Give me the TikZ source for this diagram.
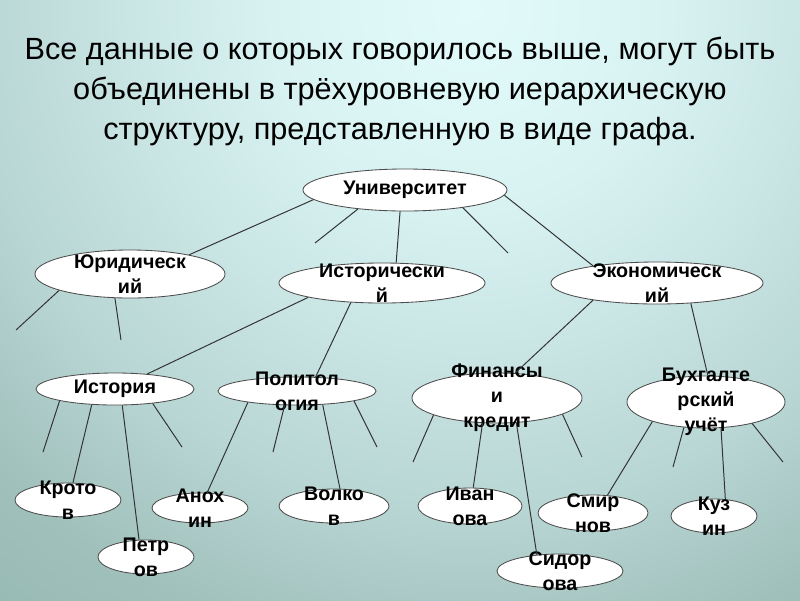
\documentclass[tikz,border=0pt]{standalone}
\usepackage{fontspec}
\setmainfont{Liberation Sans}
\newfontfamily\headfont{Liberation Sans}
\usetikzlibrary{shapes.geometric}
\definecolor{bgA}{HTML}{E2FAFA}
\definecolor{bgB}{HTML}{D8F2F2}
\definecolor{bgC}{HTML}{B8D6D4}
\definecolor{bgD}{HTML}{A0C0BB}
\definecolor{bgE}{HTML}{8BB0AA}
\definecolor{bgF}{HTML}{719A93}
\definecolor{bgG}{HTML}{5F8B85}
\definecolor{bgH}{HTML}{5C8780}
\pgfdeclareradialshading{slidebg}{\pgfpoint{0bp}{0bp}}{color(0bp)=(bgA); color(6.25bp)=(bgB); color(15.6bp)=(bgC); color(20.6bp)=(bgD); color(29.4bp)=(bgE); color(37.5bp)=(bgF); color(46.9bp)=(bgG); color(50bp)=(bgH)}
\tikzset{
  oval/.style 2 args={ellipse, draw=black!70, fill=white, line width=0.6pt, inner sep=0pt, minimum width=#1cm, minimum height=#2cm},
  otext/.style={font=\fontsize{14}{17.7}\selectfont\bfseries, align=center, inner sep=0pt},
  headline/.style={font=\headfont\fontsize{21.8}{28.4}\selectfont, align=center, inner sep=0pt},
  link/.style={draw=black!80, line width=0.7pt},
}

\begin{document}
\begin{tikzpicture}[x=0.025cm, y=-0.025cm]
  \begin{scope}
    \clip (0,0) rectangle (800,600);
    \shade[shading=slidebg] (-330,-790) rectangle (1270,810);
  \end{scope}
  \useasboundingbox (0,0) rectangle (800,600);

  \node[headline, anchor=north] (title) at (400,37) {Все данные о которых говорилось выше, могут быть\\объединены в трёхуровневую иерархическую\\структуру, представленную в виде графа.};

  \node[oval={5.1}{1.05}, label={[otext]center:Университет}] (univ) at (405,190) {};
  \node[oval={4.75}{1.2}, label={[otext]center:{Юридическ\\ий}}] (jur) at (130,274) {};
  \node[oval={5.15}{1.0}, label={[otext]center:{Исторически\\й}}] (hist) at (382,283) {};
  \node[oval={5.3}{1.05}, label={[otext]center:{Экономическ\\ий}}] (econ) at (657,283) {};
  \node[oval={3.95}{0.8}, label={[otext]center:История}] (istoria) at (115,389) {};
  \node[oval={3.95}{0.7}, label={[otext]center:{Политол\\огия}}] (polit) at (297,391) {};
  \node[oval={4.25}{1.25}, label={[otext]center:{Финансы\\и\\кредит}}] (fin) at (497,398) {};
  \node[oval={3.95}{1.3}, label={[otext]center:{Бухгалте\\рский\\учёт}}] (buh) at (706,402) {};
  \node[oval={2.65}{0.85}, label={[otext]center:{Крото\\в}}] (krot) at (68,500) {};
  \node[oval={2.4}{0.85}, label={[otext]center:{Петр\\ов}}] (petr) at (146,557) {};
  \node[oval={2.4}{0.75}, label={[otext]center:{Анох\\ин}}] (anox) at (200,508) {};
  \node[oval={2.75}{0.85}, label={[otext]center:{Волко\\в}}] (volk) at (334,506) {};
  \node[oval={2.6}{0.9}, label={[otext]center:{Иван\\ова}}] (ivan) at (470,506) {};
  \node[oval={3.15}{0.85}, label={[otext]center:{Сидор\\ова}}] (sid) at (560,571) {};
  \node[oval={2.75}{0.9}, label={[otext]center:{Смир\\нов}}] (smir) at (593,513) {};
  \node[oval={2.15}{0.85}, label={[otext]center:{Куз\\ин}}] (kuz) at (714,516) {};

  \coordinate (univ-a) at (315,243);
  \coordinate (univ-b) at (508,253);
  \coordinate (jur-a) at (16,330);
  \coordinate (jur-b) at (121,340);
  \coordinate (istoria-a) at (43,452);
  \coordinate (istoria-b) at (182,447);
  \coordinate (polit-a) at (273,452);
  \coordinate (polit-b) at (377,447);
  \coordinate (fin-a) at (413,462);
  \coordinate (fin-b) at (582,457);
  \coordinate (buh-a) at (673,467);
  \coordinate (buh-b) at (783,462);

  \draw[link] (univ.186) -- (jur.18);
  \draw[link] (univ.202) -- (univ-a);
  \draw[link] (univ.257) -- (hist.55);
  \draw[link] (univ.343) -- (univ-b);
  \draw[link] (univ.357) -- (econ.165);
  \draw[link] (jur.193) -- (jur-a);
  \draw[link] (jur.238) -- (jur-b);
  \draw[link] (hist.191) -- (istoria.25);
  \draw[link] (hist.212) -- (polit.37);
  \draw[link] (econ.195) -- (fin.54);
  \draw[link] (econ.329) -- (buh.86);
  \draw[link] (istoria.192) -- (istoria-a);
  \draw[link] (istoria.214) -- (krot.74);
  \draw[link] (istoria.294) -- (petr.112);
  \draw[link] (istoria.339) -- (istoria-b);
  \draw[link] (polit.193) -- (anox.65);
  \draw[link] (polit.229) -- (polit-a);
  \draw[link] (polit.332) -- (volk.71);
  \draw[link] (polit.350) -- (polit-b);
  \draw[link] (fin.195) -- (fin-a);
  \draw[link] (fin.240) -- (ivan.80);
  \draw[link] (fin.308) -- (sid.145);
  \draw[link] (fin.346) -- (fin-b);
  \draw[link] (buh.200) -- (smir.51);
  \draw[link] (buh.229) -- (buh-a);
  \draw[link] (buh.300) -- (kuz.56);
  \draw[link] (buh.335) -- (buh-b);
\end{tikzpicture}
\end{document}
